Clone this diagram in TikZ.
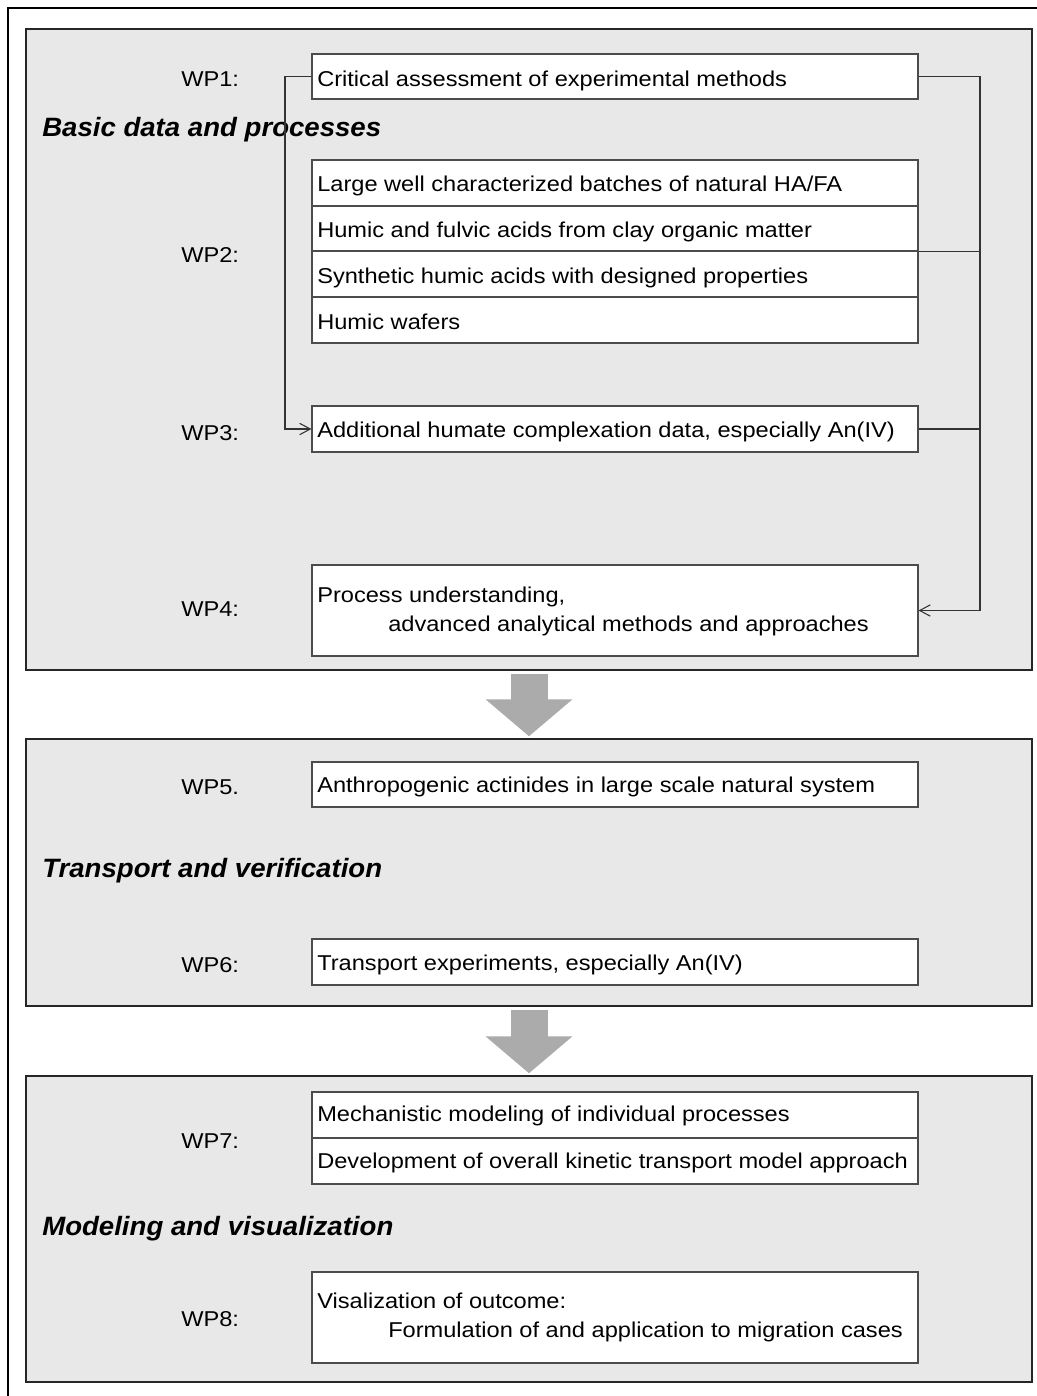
\documentclass[tikz,border=0pt]{standalone}
\usepackage{fontspec}
\setmainfont{Liberation Sans}
\newfontfamily\boxfont[FakeStretch=1.10]{Liberation Sans}
\newfontfamily\titlefont[FakeStretch=1.04]{Liberation Sans}
\usetikzlibrary{fit,arrows.meta}
\begin{document}
\begin{tikzpicture}[x=0.75pt,y=-0.75pt,
  panel/.style={draw=black!85, line width=1.1pt, fill=black!9, inner sep=0pt},
  box/.style={draw=black!70, line width=0.8pt, fill=white, inner sep=0pt},
  txt/.style={anchor=base west, inner sep=0pt, font=\boxfont\fontsize{16.1}{19}\selectfont},
  ttl/.style={anchor=base west, inner sep=0pt, font=\titlefont\fontsize{19.9}{24}\selectfont\bfseries\itshape},
  conn/.style={draw=black!80, line width=0.8pt},
  tip/.style={-{Straight Barb[length=8pt,width=8.5pt]}},
  bigarrow/.style={draw=black!33, line width=27.75pt, -{Triangle[length=27.75pt,width=63.75pt]}, shorten <=2.25pt, shorten >=1.5pt}]

\useasboundingbox (0,0) rectangle (1037,1396);
\fill[white] (0,0) rectangle (1037,1396);
\draw[line width=0.9pt] (8,1396) -- (8,8) -- (1037,8);

% panels
\node[panel, fit={(26,29) (1032,670)}] (p1) {};
\node[panel, fit={(26,739) (1032,1006)}] (p2) {};
\node[panel, fit={(26,1076) (1032,1382)}] (p3) {};

\draw[bigarrow] (p1) -- (p2);
\draw[bigarrow] (p2) -- (p3);

% titles
\node[ttl] (t1) at (42,136) {Basic data and processes};
\node[ttl] (t2) at (42,877) {Transport and verification};
\node[ttl] (t3) at (42,1235) {Modeling and visualization};

% boxes
\node[box, fit={(312,54) (918,99)}] (b1) {};
\node[box, fit={(312,160) (918,206)}] (b2a) {};
\node[box, fit={(312,206) (918,251)}] (b2b) {};
\node[box, fit={(312,251) (918,297)}] (b2c) {};
\node[box, fit={(312,297) (918,343)}] (b2d) {};
\node[box, fit={(312,406) (918,452)}] (b3) {};
\node[box, fit={(312,565) (918,656)}] (b4) {};
\node[box, fit={(312,762) (918,807)}] (b5) {};
\node[box, fit={(312,939) (918,985)}] (b6) {};
\node[box, fit={(312,1092) (918,1138)}] (b7a) {};
\node[box, fit={(312,1138) (918,1184)}] (b7b) {};
\node[box, fit={(312,1272) (918,1363)}] (b8) {};

% box texts
\node[txt] (x1) at (317,86) {Critical assessment of experimental methods};
\node[txt] (x2a) at (317,191) {Large well characterized batches of natural HA/FA};
\node[txt] (x2b) at (317,237) {Humic and fulvic acids from clay organic matter};
\node[txt] (x2c) at (317,283) {Synthetic humic acids with designed properties};
\node[txt] (x2d) at (317,329) {Humic wafers};
\node[txt] (x3) at (317,437) {Additional humate complexation data, especially An(IV)};
\node[txt] (x4a) at (317,602) {Process understanding,};
\node[txt] (x4b) at (388,631) {advanced analytical methods and approaches};
\node[txt] (x5) at (317,792) {Anthropogenic actinides in large scale natural system};
\node[txt] (x6) at (317,970) {Transport experiments, especially An(IV)};
\node[txt] (x7a) at (317,1121) {Mechanistic modeling of individual processes};
\node[txt] (x7b) at (317,1168) {Development of overall kinetic transport model approach};
\node[txt] (x8a) at (317,1308) {Visalization of outcome:};
\node[txt] (x8b) at (388,1337) {Formulation of and application to migration cases};

% WP labels
\node[txt] (w1) at (181,86) {WP1:};
\node[txt] (w2) at (181,262) {WP2:};
\node[txt] (w3) at (181,440) {WP3:};
\node[txt] (w4) at (181,616) {WP4:};
\node[txt] (w5) at (181,794) {WP5.};
\node[txt] (w6) at (181,972) {WP6:};
\node[txt] (w7) at (181,1148) {WP7:};
\node[txt] (w8) at (181,1326) {WP8:};

% connectors
\coordinate (cl) at (285,0);
\coordinate (cr) at (980,0);
\draw[conn, tip] (b1.west) -- (b1.west -| cl) -- (b3.west -| cl) -- (b3.west);
\draw[conn, tip] (b1.east) -- (b1.east -| cr) -- (b4.east -| cr) -- (b4.east);
\draw[conn] (b2b.south east) -- (b2b.south east -| cr);
\draw[conn] (b3.east) -- (b3.east -| cr);
\end{tikzpicture}
\end{document}
